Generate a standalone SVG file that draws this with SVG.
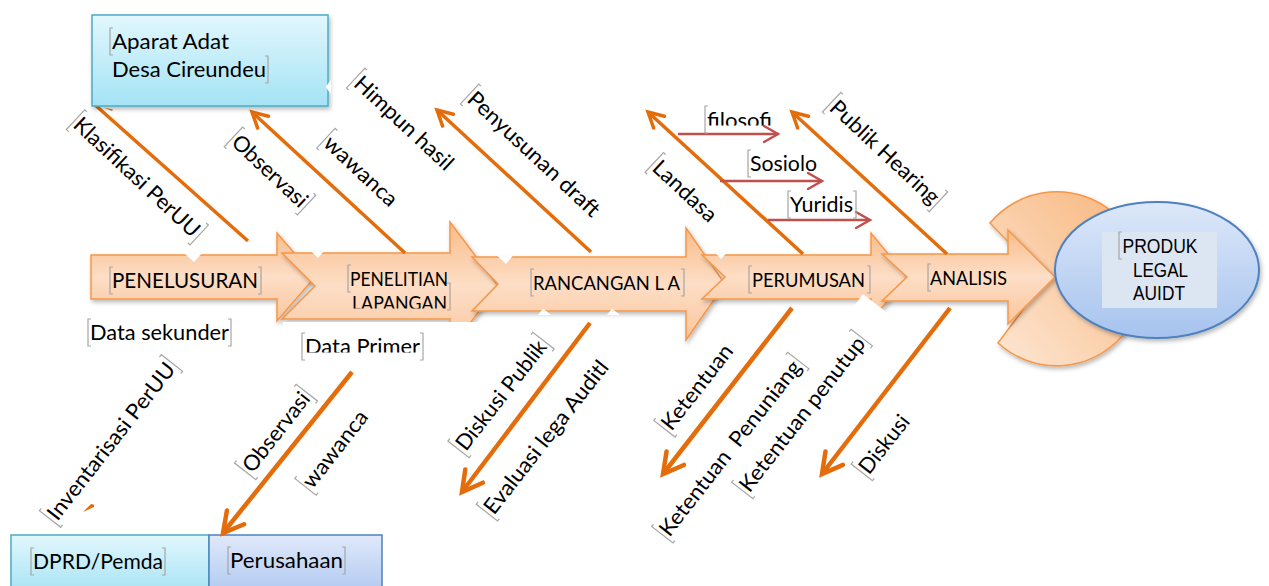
<svg xmlns="http://www.w3.org/2000/svg" xmlns:xlink="http://www.w3.org/1999/xlink" width="1269" height="586" viewBox="0 0 1269 586">
<defs>
  <linearGradient id="gOr" x1="0" y1="0" x2="0" y2="1">
    <stop offset="0" stop-color="#F9BC8A"/>
    <stop offset="0.5" stop-color="#FDDEC6"/>
    <stop offset="1" stop-color="#FAC59C"/>
  </linearGradient>
  <linearGradient id="gCy" x1="0" y1="0" x2="0" y2="1">
    <stop offset="0" stop-color="#E2F7FD"/>
    <stop offset="1" stop-color="#A4E3F5"/>
  </linearGradient>
  <linearGradient id="gBl" x1="0" y1="0" x2="0" y2="1">
    <stop offset="0" stop-color="#E0E9FA"/>
    <stop offset="1" stop-color="#AFC8F1"/>
  </linearGradient>
  <linearGradient id="gEl" x1="0" y1="0" x2="0" y2="1">
    <stop offset="0" stop-color="#DDE8F9"/>
    <stop offset="1" stop-color="#A6C3EE"/>
  </linearGradient>
  <linearGradient id="gPie" x1="1" y1="0" x2="0" y2="1">
    <stop offset="0" stop-color="#F8B47A"/>
    <stop offset="1" stop-color="#FDE8D6"/>
  </linearGradient>
  <filter id="sh" x="-10%" y="-10%" width="130%" height="140%">
    <feDropShadow dx="1.5" dy="2.5" stdDeviation="2" flood-color="#000" flood-opacity="0.28"/>
  </filter>
  <marker id="mO" markerUnits="userSpaceOnUse" viewBox="-25 -15 30 30" markerWidth="30" markerHeight="30" refX="0" refY="0" orient="auto" overflow="visible">
    <path d="M-15,-8 L0,0 L-15,8" fill="none" stroke="#E46C0A" stroke-width="3.5" stroke-linecap="round"/>
  </marker>
  <marker id="mOb" markerUnits="userSpaceOnUse" viewBox="-25 -15 30 30" markerWidth="30" markerHeight="30" refX="0" refY="0" orient="auto" overflow="visible">
    <path d="M-20,-11 L0,0 L-20,11" fill="none" stroke="#E46C0A" stroke-width="4.5" stroke-linecap="round"/>
  </marker>
  <marker id="mR" markerUnits="userSpaceOnUse" viewBox="-25 -15 30 30" markerWidth="30" markerHeight="30" refX="0" refY="0" orient="auto" overflow="visible">
    <path d="M-14,-8 L0,0 L-14,8" fill="none" stroke="#C0504D" stroke-width="2.5" stroke-linecap="round"/>
  </marker>
  <path id="bl" d="M3,-21 H0 V6 H3"/>
  <path id="br" d="M-3,-21 H0 V6 H-3"/>
  <clipPath id="cLap"><rect x="340" y="290" width="120" height="18.5"/></clipPath>
  <clipPath id="cPrim"><rect x="295" y="330" width="140" height="22.5"/></clipPath>
  <clipPath id="cFil"><rect x="700" y="100" width="90" height="25.5"/></clipPath>
  <clipPath id="cYur"><rect x="780" y="185" width="90" height="27.5"/></clipPath>
</defs>
<style>
  .t{font-family:Lato,"Liberation Sans",sans-serif;font-size:21.6px;fill:#000}
  .s{font-size:18.6px}
  .n{font-family:"Liberation Sans",Arial,sans-serif;font-size:21px;fill:#000}
  .br{fill:none;stroke:#A6A6A6;stroke-width:1.2}
  .chev{fill:url(#gOr);stroke:#F79646;stroke-width:1.5}
  .ln{fill:none;stroke:#E46C0A;stroke-width:3.5;marker-end:url(#mO)}
  .ln0{fill:none;stroke:#E46C0A;stroke-width:3.5}
  .lnb{fill:none;stroke:#E46C0A;stroke-width:4.5;marker-end:url(#mOb)}
  .lr{fill:none;stroke:#C0504D;stroke-width:2.5;marker-end:url(#mR)}
  .wh{fill:#fff}
</style>

<!-- product pie behind ellipse -->
<g id="node-pie">
  <path d="M990,223 A87,87 0 1 1 998,343 L1045,280 Z" fill="url(#gPie)" stroke="#F79646" stroke-width="1.5" filter="url(#sh)"/>
</g>

<!-- process chevrons -->
<g id="node-penelusuran">
  <path class="chev" filter="url(#sh)" d="M91,255 H277 V233 L315,277 L277,321 V299 H91 Z"/>
</g>
<g id="node-penelitian">
  <path class="chev" filter="url(#sh)" d="M282,253 H450 V222 L498,286 L450,350 V319 H282 L315,286 Z"/>
</g>
<g id="node-rancangan">
  <path class="chev" filter="url(#sh)" d="M472,257 H686 V228 L725,284 L686,340 V311 H472 L498,284 Z"/>
</g>
<g id="node-perumusan">
  <path class="chev" filter="url(#sh)" d="M702,255 H871 V233 L907,277 L871,321 V299 H702 L725,277 Z"/>
</g>
<g id="node-analisis">
  <path class="chev" filter="url(#sh)" d="M882,254 H1008 V230 L1055,277 L1008,324 V301 H882 L907,277 Z"/>
</g>

<!-- white label-box corners overlapping chevrons -->
<g id="label-box-corners">
  <polygon class="wh" points="194,262 202,253 184,253"/>
  <polygon class="wh" points="318,258 323,252 312,252"/>
  <polygon class="wh" points="506,264 513,255.5 497,255.5"/>
  <polygon class="wh" points="721,259 726,253.5 716,253.5"/>
  <polygon class="wh" points="543,308.5 551,315 538,315"/>
  <polygon class="wh" points="612,308.5 620,315 607,315"/>
  <polygon class="wh" points="863,294 890,315 866,345 840,325"/>
  <rect class="wh" x="283" y="322" width="208" height="34"/>
</g>

<!-- result ellipse -->
<g id="node-produk">
  <ellipse cx="1157" cy="270" rx="102" ry="68" fill="url(#gEl)" stroke="#4F81BD" stroke-width="2" filter="url(#sh)"/>
  <rect x="1102" y="232" width="115" height="76" fill="#DCE6F2"/>
  <use href="#bl" class="br" x="1119" y="253"/>
  <text class="n" x="1160" y="253" text-anchor="middle" textLength="75" lengthAdjust="spacingAndGlyphs">PRODUK</text>
  <text class="n" x="1160.5" y="277" text-anchor="middle" textLength="55" lengthAdjust="spacingAndGlyphs">LEGAL</text>
  <text class="n" x="1159" y="300" text-anchor="middle" textLength="52" lengthAdjust="spacingAndGlyphs">AUIDT</text>
</g>

<!-- bottom boxes -->
<g id="node-dprd">
  <rect x="11" y="535" width="198" height="60" fill="url(#gCy)" stroke="#4BACC6" stroke-width="1.5"/>
  <use href="#bl" class="br" x="31" y="569"/>
  <text class="t" x="33" y="569" textLength="130" lengthAdjust="spacingAndGlyphs">DPRD/Pemda</text>
  <use href="#br" class="br" x="165" y="569"/>
</g>
<g id="node-perusahaan">
  <rect x="209" y="535" width="173" height="60" fill="url(#gBl)" stroke="#4F81BD" stroke-width="1.5"/>
  <use href="#bl" class="br" x="228" y="568"/>
  <text class="t" x="230" y="568" textLength="113" lengthAdjust="spacingAndGlyphs">Perusahaan</text>
  <use href="#br" class="br" x="345" y="568"/>
</g>

<!-- connectors -->
<g id="connectors">
  <line class="ln0" x1="248" y1="241" x2="94" y2="104"/>
  <path d="M104,107.5 L113,109.5 L112,111 Z" fill="#E46C0A"/>
  <line class="ln" x1="405" y1="253" x2="252" y2="112"/>
  <line class="ln" x1="591" y1="252" x2="437" y2="110"/>
  <line class="ln" x1="803" y1="254" x2="648" y2="112"/>
  <line class="ln" x1="947" y1="254" x2="792" y2="112"/>
  <line class="lr" x1="678" y1="134" x2="778" y2="134"/>
  <line class="lr" x1="720" y1="181" x2="822" y2="181"/>
  <line class="lr" x1="768" y1="220" x2="870" y2="220"/>
  <line class="lnb" x1="352" y1="372" x2="223" y2="533"/>
  <line class="lnb" x1="590" y1="323" x2="462" y2="492"/>
  <line class="lnb" x1="792" y1="308" x2="663" y2="474"/>
  <line class="lnb" x1="950" y1="308" x2="822" y2="474"/>
  <path d="M83,512 L91,504 Q95,504 94,507 Z" fill="#E46C0A"/>
</g>

<!-- top box -->
<g id="node-aparat">
  <rect x="92" y="15" width="236" height="91" fill="url(#gCy)" stroke="#4BACC6" stroke-width="1.5" filter="url(#sh)"/>
  <polygon class="wh" points="331,80 325.5,87 331,94"/>
  <use href="#bl" class="br" x="110" y="49"/>
  <text class="t" x="112" y="49" textLength="117" lengthAdjust="spacingAndGlyphs">Aparat Adat</text>
  <text class="t" x="112" y="77" textLength="154" lengthAdjust="spacingAndGlyphs">Desa Cireundeu</text>
  <use href="#br" class="br" x="268" y="77"/>
</g>

<!-- chevron labels -->
<g id="text-penelusuran">
  <use href="#bl" class="br" x="110" y="288"/>
  <text class="t" x="112" y="288" textLength="146" lengthAdjust="spacingAndGlyphs">PENELUSURAN</text>
  <use href="#br" class="br" x="261" y="288"/>
</g>
<g id="text-penelitian">
  <use href="#bl" class="br" x="348" y="286"/>
  <text class="t s" x="350" y="286" textLength="98" lengthAdjust="spacingAndGlyphs">PENELITIAN</text>
  <text class="t s" x="352" y="310" textLength="95" lengthAdjust="spacingAndGlyphs" clip-path="url(#cLap)">LAPANGAN</text>
  <use href="#br" class="br" x="450" y="304"/>
</g>
<g id="text-rancangan">
  <use href="#bl" class="br" x="531" y="290"/>
  <text class="t s" x="533" y="290" textLength="147" lengthAdjust="spacingAndGlyphs">RANCANGAN L A</text>
  <use href="#br" class="br" x="684" y="290"/>
</g>
<g id="text-perumusan">
  <use href="#bl" class="br" x="749" y="287"/>
  <text class="t s" x="752" y="287" textLength="113" lengthAdjust="spacingAndGlyphs">PERUMUSAN</text>
  <use href="#br" class="br" x="870" y="287"/>
</g>
<g id="text-analisis">
  <use href="#bl" class="br" x="928" y="285"/>
  <text class="t s" x="930" y="285" textLength="77" lengthAdjust="spacingAndGlyphs">ANALISIS</text>
</g>

<!-- free texts -->
<g id="text-data-sekunder">
  <use href="#bl" class="br" x="88" y="340"/>
  <text class="t" x="90" y="340" textLength="139" lengthAdjust="spacingAndGlyphs">Data sekunder</text>
  <use href="#br" class="br" x="231" y="340"/>
</g>
<g id="text-data-primer">
  <use href="#bl" class="br" x="302" y="354"/>
  <text class="t" x="305" y="354" textLength="115" lengthAdjust="spacingAndGlyphs" clip-path="url(#cPrim)">Data Primer</text>
  <use href="#br" class="br" x="423" y="354"/>
</g>
<g id="text-filosofi">
  <use href="#bl" class="br" x="705" y="127"/>
  <text class="t" x="707" y="127.5" textLength="65" lengthAdjust="spacingAndGlyphs" clip-path="url(#cFil)">filosofi</text>
</g>
<g id="text-sosiolo">
  <use href="#bl" class="br" x="748" y="171"/>
  <text class="t" x="750" y="171" textLength="67" lengthAdjust="spacingAndGlyphs">Sosiolo</text>
</g>
<g id="text-yuridis">
  <use href="#bl" class="br" x="788" y="212"/>
  <text class="t" x="790" y="212" textLength="63" lengthAdjust="spacingAndGlyphs" clip-path="url(#cYur)">Yuridis</text>
  <use href="#br" class="br" x="856" y="212"/>
</g>

<!-- upper slanted labels -->
<g id="lbl-klasifikasi" transform="translate(137,177) rotate(43)">
  <use href="#bl" class="br" x="-84" y="7.5"/>
  <text class="t" x="-82" y="7.5" textLength="164" lengthAdjust="spacingAndGlyphs">Klasifikasi PerUU</text>
  <use href="#br" class="br" x="85" y="7.5"/>
</g>
<g id="lbl-observasi-top" transform="translate(270,171) rotate(43)">
  <use href="#bl" class="br" x="-50" y="7.5"/>
  <text class="t" x="-47.5" y="7.5" textLength="95" lengthAdjust="spacingAndGlyphs">Observasi</text>
  <use href="#br" class="br" x="50" y="7.5"/>
</g>
<g id="lbl-wawanca-top" transform="translate(361,171) rotate(43)">
  <use href="#bl" class="br" x="-48" y="7.5"/>
  <text class="t" x="-46" y="7.5" textLength="92" lengthAdjust="spacingAndGlyphs">wawanca</text>
</g>
<g id="lbl-himpun" transform="translate(404,123) rotate(43)">
  <use href="#bl" class="br" x="-66" y="7.5"/>
  <text class="t" x="-63.5" y="7.5" textLength="127" lengthAdjust="spacingAndGlyphs">Himpun hasil</text>
</g>
<g id="lbl-penyusunan" transform="translate(534,154) rotate(43)">
  <use href="#bl" class="br" x="-88" y="7.5"/>
  <text class="t" x="-86" y="7.5" textLength="172" lengthAdjust="spacingAndGlyphs">Penyusunan draft</text>
</g>
<g id="lbl-landasa" transform="translate(685,191) rotate(43)">
  <use href="#bl" class="br" x="-42" y="7.5"/>
  <text class="t" x="-39.5" y="7.5" textLength="79" lengthAdjust="spacingAndGlyphs">Landasa</text>
</g>
<g id="lbl-publik" transform="translate(885,152) rotate(43)">
  <use href="#bl" class="br" x="-73" y="7.5"/>
  <text class="t" x="-70.5" y="7.5" textLength="141" lengthAdjust="spacingAndGlyphs">Publik Hearing</text>
  <use href="#br" class="br" x="73" y="7.5"/>
</g>

<!-- lower slanted labels -->
<g id="lbl-inventarisasi" transform="translate(111,441) rotate(-52)">
  <use href="#bl" class="br" x="-99" y="7.5"/>
  <text class="t" x="-96.5" y="7.5" textLength="193" lengthAdjust="spacingAndGlyphs">Inventarisasi PerUU</text>
  <use href="#br" class="br" x="99" y="7.5"/>
</g>
<g id="lbl-observasi-bot" transform="translate(276,432) rotate(-52)">
  <use href="#bl" class="br" x="-50" y="7.5"/>
  <text class="t" x="-47.5" y="7.5" textLength="95" lengthAdjust="spacingAndGlyphs">Observasi</text>
  <use href="#br" class="br" x="50" y="7.5"/>
</g>
<g id="lbl-wawanca-bot" transform="translate(335,449) rotate(-52)">
  <use href="#bl" class="br" x="-48" y="7.5"/>
  <text class="t" x="-46" y="7.5" textLength="92" lengthAdjust="spacingAndGlyphs">wawanca</text>
</g>
<g id="lbl-diskusi-publik" transform="translate(501,395) rotate(-52)">
  <use href="#bl" class="br" x="-69" y="7.5"/>
  <text class="t" x="-66.5" y="7.5" textLength="133" lengthAdjust="spacingAndGlyphs">Diskusi Publik</text>
  <use href="#br" class="br" x="69" y="7.5"/>
</g>
<g id="lbl-evaluasi" transform="translate(546,437) rotate(-52)">
  <use href="#bl" class="br" x="-96" y="7.5"/>
  <text class="t" x="-94" y="7.5" textLength="188" lengthAdjust="spacingAndGlyphs">Evaluasi lega Auditl</text>
</g>
<g id="lbl-ketentuan" transform="translate(697,387) rotate(-52)">
  <use href="#bl" class="br" x="-53" y="7.5"/>
  <text class="t" x="-51" y="7.5" textLength="102" lengthAdjust="spacingAndGlyphs">Ketentuan</text>
</g>
<g id="lbl-ketentuan-penunjang" transform="translate(730,448) rotate(-52)">
  <use href="#bl" class="br" x="-110" y="7.5"/>
  <text class="t" x="-108" y="7.5" textLength="216" lengthAdjust="spacingAndGlyphs" xml:space="preserve">Ketentuan  Penuniang</text>
  <use href="#br" class="br" x="111" y="7.5"/>
</g>
<g id="lbl-ketentuan-penutup" transform="translate(802,414) rotate(-52)">
  <use href="#bl" class="br" x="-97" y="7.5"/>
  <text class="t" x="-95" y="7.5" textLength="190" lengthAdjust="spacingAndGlyphs">Ketentuan penutup</text>
  <use href="#br" class="br" x="97" y="7.5"/>
</g>
<g id="lbl-diskusi" transform="translate(884,444) rotate(-52)">
  <use href="#bl" class="br" x="-36" y="7.5"/>
  <text class="t" x="-34" y="7.5" textLength="68" lengthAdjust="spacingAndGlyphs">Diskusi</text>
</g>
</svg>
